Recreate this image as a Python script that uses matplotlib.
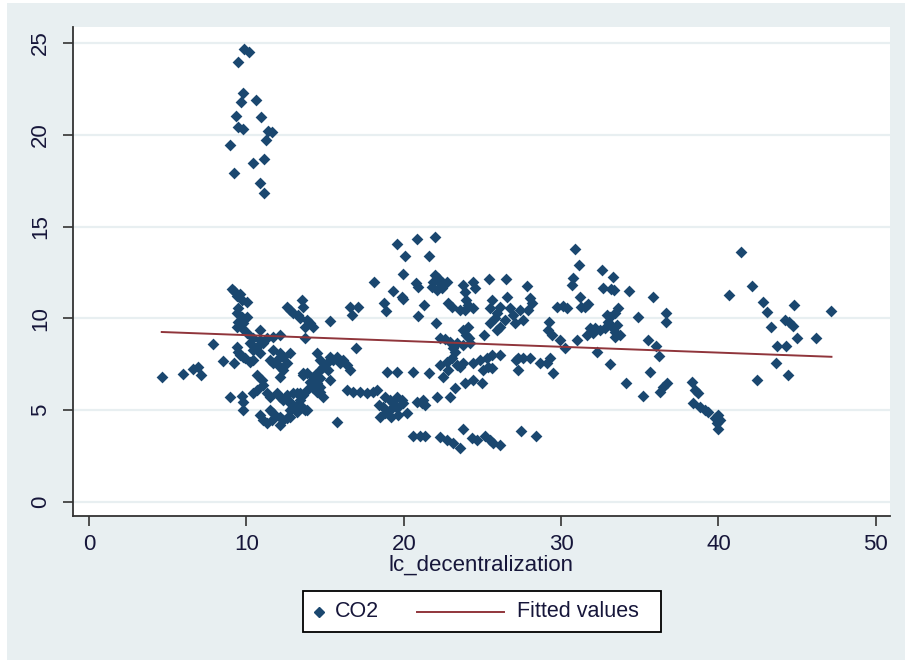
import matplotlib
matplotlib.use('Agg')
import matplotlib.pyplot as plt
from matplotlib import font_manager
from matplotlib.patches import Rectangle
from matplotlib.lines import Line2D
import numpy as np

# CO2 vs lc_decentralization
top_cluster = [(9.87, 24.66), (10.18, 24.53), (9.49, 23.98), (9.80, 22.29), (9.66, 21.80),
               (10.59, 21.90), (9.36, 21.04), (10.91, 20.95), (9.49, 20.41), (9.80, 20.30),
               (11.39, 20.21), (11.61, 20.17), (11.25, 19.72), (8.94, 19.43), (11.14, 18.68),
               (10.44, 18.48), (9.23, 17.90), (10.86, 17.39), (11.14, 16.85)]

left_points = [(4.62, 6.83), (5.95, 6.95), (6.63, 7.24), (6.95, 7.37), (7.09, 6.92), (7.90, 8.61),
               (8.49, 7.68), (9.23, 7.55), (8.94, 5.70), (9.74, 5.79), (9.81, 5.46), (9.81, 5.01),
               (9.11, 11.60), (9.21, 11.49), (9.38, 11.22), (9.59, 11.31), (9.70, 11.00), (10.02, 10.91),
               (9.49, 10.55), (9.38, 10.28), (9.70, 10.09), (10.02, 10.09), (9.49, 9.82), (9.81, 9.73),
               (9.38, 9.55), (9.70, 9.46), (9.38, 8.46), (9.49, 8.19), (9.59, 8.01), (9.91, 7.82),
               (10.23, 7.64), (10.44, 7.73), (9.81, 7.88)]

dense_points = [(10.86, 9.37), (10.02, 9.19), (10.44, 8.91), (10.86, 8.82), (11.29, 8.91), (11.71, 9.01),
                (12.13, 9.10), (10.23, 8.64), (10.65, 8.46), (11.08, 8.64), (10.44, 8.28), (10.86, 8.10),
                (11.71, 8.28), (12.13, 8.10), (11.92, 7.73), (12.35, 7.92), (12.56, 7.55), (12.77, 8.10),
                (12.13, 7.37), (11.71, 7.55), (11.50, 7.73), (10.65, 6.92), (10.97, 6.64), (11.08, 6.37),
                (10.65, 6.10), (10.44, 5.92), (11.29, 5.92), (11.50, 5.74), (11.92, 5.92), (12.13, 5.74),
                (12.35, 5.56), (12.56, 5.83), (12.77, 5.46), (12.98, 5.19), (13.19, 5.92), (13.41, 5.56),
                (13.62, 5.83), (13.83, 6.10), (14.25, 6.19), (14.46, 6.01), (13.19, 4.92), (12.77, 5.01),
                (13.72, 5.01), (10.86, 4.74), (11.08, 4.47), (11.29, 4.28), (11.61, 4.47), (12.13, 4.65),
                (12.35, 4.47), (12.56, 4.56), (12.13, 4.19), (11.50, 5.01), (13.83, 7.01), (14.25, 6.83),
                (14.46, 6.46), (14.68, 6.74), (15.31, 6.64), (14.68, 6.28), (14.46, 8.10), (13.57, 6.92),
                (12.56, 10.64), (12.77, 10.46), (12.98, 10.28), (13.30, 10.19), (13.51, 11.00), (13.62, 10.64),
                (13.41, 10.00), (13.83, 9.91), (14.04, 9.73), (14.25, 9.55), (13.72, 9.55), (13.72, 8.91),
                (15.31, 9.86), (16.58, 10.64), (17.11, 10.64), (16.69, 10.19), (14.68, 7.73), (14.89, 7.37),
                (15.10, 7.55), (15.31, 7.92), (15.52, 7.73), (15.74, 7.92), (15.95, 7.55), (16.16, 7.73),
                (16.37, 7.46), (16.58, 7.19), (15.21, 7.19), (14.68, 7.19), (14.36, 6.92), (14.04, 6.55),
                (14.46, 6.28), (14.68, 6.01), (14.89, 5.74), (13.62, 7.01), (12.14, 6.83), (12.35, 7.19),
                (12.77, 5.37), (13.19, 5.28), (13.62, 5.10), (12.98, 5.92), (13.41, 5.92), (13.83, 5.01),
                (12.77, 4.65), (11.71, 4.83), (16.37, 6.10), (16.79, 6.01), (17.22, 6.01), (17.64, 5.92),
                (18.06, 6.01), (18.28, 6.10), (15.74, 4.38), (16.97, 8.37)]

middle_points = [(19.55, 14.05), (20.82, 14.32), (21.98, 14.42), (20.08, 13.40), (21.62, 13.40), (19.97, 12.42),
                 (18.10, 11.96), (20.78, 11.95), (20.92, 11.73), (21.98, 12.36), (22.19, 12.18), (21.88, 12.00),
                 (22.30, 11.91), (21.77, 11.73), (22.09, 11.55), (22.51, 11.91), (22.72, 12.00), (22.40, 11.64),
                 (19.29, 11.49), (19.87, 11.18), (19.97, 11.04), (18.74, 10.86), (18.87, 10.42), (21.28, 10.73),
                 (20.92, 10.13), (22.05, 9.77), (23.74, 11.82), (24.42, 12.00), (23.89, 11.46), (24.52, 11.64),
                 (23.95, 11.00), (24.10, 10.73), (24.42, 10.55), (23.89, 10.46), (22.83, 10.82), (23.04, 10.60),
                 (23.57, 10.46), (23.78, 9.37), (23.95, 9.10), (24.16, 8.91), (24.10, 9.55), (22.30, 8.91),
                 (22.62, 8.86), (22.94, 8.73), (23.36, 8.64), (23.78, 8.55), (24.21, 8.68), (23.15, 8.37),
                 (23.25, 8.19), (22.30, 7.46), (22.72, 7.64), (23.04, 7.82), (23.36, 7.46), (22.83, 7.19),
                 (23.57, 7.37), (22.51, 6.83), (18.91, 7.10), (19.54, 7.10), (20.56, 7.10), (21.62, 7.01),
                 (18.81, 5.74), (19.12, 5.56), (19.33, 5.37), (19.54, 5.74), (19.86, 5.56), (18.70, 5.19),
                 (19.12, 5.01), (18.49, 4.65), (18.81, 4.83), (19.54, 5.10), (20.18, 4.83), (19.19, 4.65),
                 (18.45, 5.28), (19.61, 4.74), (19.97, 5.37), (20.85, 5.46), (21.14, 5.37), (21.35, 5.28),
                 (21.25, 5.55), (22.09, 5.74), (22.94, 5.74), (23.25, 6.19), (23.89, 6.46), (24.42, 6.64),
                 (24.95, 6.46), (23.78, 7.55), (24.42, 7.55), (24.84, 7.73), (25.26, 7.82), (25.58, 8.01),
                 (26.11, 8.01), (25.37, 7.37), (25.58, 7.28), (25.05, 7.19), (20.61, 3.60), (21.03, 3.60),
                 (21.35, 3.60), (22.30, 3.56), (22.72, 3.38), (23.15, 3.20), (23.57, 2.92), (23.78, 3.96),
                 (24.31, 3.47), (24.63, 3.38), (25.16, 3.60), (25.48, 3.38), (25.69, 3.20), (26.11, 3.10),
                 (27.42, 3.89), (28.38, 3.60)]

right_points = [(25.41, 12.13), (26.49, 12.13), (27.81, 11.76), (25.58, 11.00), (25.48, 10.55), (26.11, 10.64),
                (25.90, 10.28), (26.54, 11.15), (26.75, 10.55), (26.96, 10.19), (27.38, 10.46), (26.43, 9.91),
                (27.07, 9.73), (25.79, 10.00), (25.48, 9.73), (26.11, 9.55), (28.02, 11.09), (28.12, 10.82),
                (27.91, 10.46), (27.59, 9.91), (25.93, 9.37), (25.10, 9.10), (27.11, 7.73), (27.28, 7.82),
                (27.59, 7.82), (28.02, 7.82), (27.26, 7.19), (28.65, 7.55), (29.08, 7.55), (29.29, 7.82),
                (29.50, 7.01), (29.25, 9.82), (29.18, 9.37), (29.39, 9.10), (29.92, 8.82), (30.24, 8.37),
                (30.98, 8.82), (29.71, 10.60), (30.14, 10.68), (30.35, 10.55), (30.88, 13.76), (31.15, 12.91),
                (30.77, 12.18), (30.67, 11.82), (31.19, 11.18), (31.24, 10.60), (31.50, 10.60), (31.72, 10.78),
                (31.83, 9.46), (32.04, 9.19), (31.62, 9.10), (32.25, 8.19)]

far_right_points = [(32.57, 12.64), (33.31, 12.24), (32.63, 11.64), (33.20, 11.58), (33.35, 11.55), (34.33, 11.49),
                    (35.81, 11.18), (33.63, 10.55), (33.42, 10.28), (33.10, 10.09), (32.89, 10.18), (31.94, 9.37),
                    (32.15, 9.46), (32.47, 9.37), (32.78, 9.46), (33.21, 9.55), (33.42, 9.28), (33.52, 9.64),
                    (33.74, 9.10), (33.42, 9.01), (32.99, 9.82), (34.90, 10.06), (36.66, 10.28), (36.66, 9.82),
                    (33.10, 7.50), (35.54, 8.82), (36.06, 8.49), (36.23, 7.95), (35.64, 7.10), (34.12, 6.46),
                    (35.22, 5.79), (36.28, 6.01), (36.49, 6.28), (36.70, 6.46), (38.29, 6.55), (38.50, 6.10),
                    (38.71, 5.96), (38.40, 5.41), (38.82, 5.19), (39.13, 5.01), (39.34, 4.92), (39.77, 4.56),
                    (39.98, 4.74), (40.09, 4.47), (39.88, 4.28), (39.98, 3.96), (41.40, 13.63), (40.66, 11.27),
                    (42.16, 11.76), (42.84, 10.91), (43.09, 10.37), (43.31, 9.55), (44.80, 10.73), (44.20, 9.91),
                    (44.50, 9.82), (44.75, 9.59), (44.96, 8.91), (46.20, 8.91), (47.18, 10.42), (43.69, 8.51),
                    (44.32, 8.51), (43.65, 7.55), (44.39, 6.92), (42.42, 6.64)]

# fitted values (linear fit endpoints)
fit_x = [4.62, 47.18]
fit_y = [9.26, 7.91]

x_ticks = [0, 10, 20, 30, 40, 50]
y_ticks = [0, 5, 10, 15, 20, 25]

bg = '#e8eff1'
navy = '#1a476f'
maroon = '#90353b'
axis_col = '#333333'

names = {f.name for f in font_manager.fontManager.ttflist}
font = 'Liberation Sans Narrow' if 'Liberation Sans Narrow' in names else 'Liberation Sans'
plt.rcParams['font.family'] = [font, 'DejaVu Sans']

pts = np.array(top_cluster + left_points + dense_points + middle_points + right_points + far_right_points)

W, H = 905, 660
fig = plt.figure(figsize=(W / 100, H / 100), dpi=100)
fig.patch.set_facecolor('white')
fig.add_artist(Rectangle((7 / W, 0), 1, 1 - 3 / H, transform=fig.transFigure,
                         facecolor=bg, edgecolor='none', zorder=-10))

ax = fig.add_axes([73 / W, 1 - 516 / H, 817 / W, 489 / H])
ax.set_facecolor('white')
ax.scatter(pts[:, 0], pts[:, 1], marker='D', s=36, color=navy, linewidths=0, zorder=3)
ax.plot(fit_x, fit_y, color=maroon, lw=1.4, zorder=4)

ax.set_xlim(-1.02, 50.9)
ax.set_ylim(-0.76, 25.87)
ax.set_xticks(x_ticks)
ax.set_yticks(y_ticks)
ax.grid(axis='y', color=bg, lw=1.6)
ax.set_axisbelow(True)

for s in ['top', 'right']:
    ax.spines[s].set_visible(False)
for s in ['left', 'bottom']:
    ax.spines[s].set_color(axis_col)
    ax.spines[s].set_linewidth(1.3)

ax.tick_params(axis='both', length=7, width=1.2, color=axis_col, labelsize=16, labelcolor='#16163a')
ax.tick_params(axis='y', pad=9)
ax.tick_params(axis='x', pad=6)
for lab in ax.get_yticklabels():
    lab.set_rotation(90)
    lab.set_va('center')
ax.set_xlabel('lc_decentralization', fontsize=16, color='#16163a', labelpad=0)

# legend box
lx0, lx1, ly0, ly1 = 303, 661, 591, 632
fig.add_artist(Rectangle((lx0 / W, 1 - ly1 / H), (lx1 - lx0) / W, (ly1 - ly0) / H,
                         transform=fig.transFigure, facecolor='white', edgecolor='black', lw=1.3))
ym = 1 - 611.5 / H
fig.add_artist(Line2D([319 / W], [ym], marker='D', markersize=5.5, color=navy, linestyle='none',
                      transform=fig.transFigure))
fig.text(335 / W, ym, 'CO2', fontsize=15.5, color='#16163a', va='center', ha='left')
fig.add_artist(Line2D([417 / W, 504 / W], [ym, ym], color=maroon, lw=1.4, transform=fig.transFigure))
fig.text(517 / W, ym, 'Fitted values', fontsize=15.5, color='#16163a', va='center', ha='left')

fig.savefig('out.png', dpi=100, facecolor=fig.get_facecolor())
